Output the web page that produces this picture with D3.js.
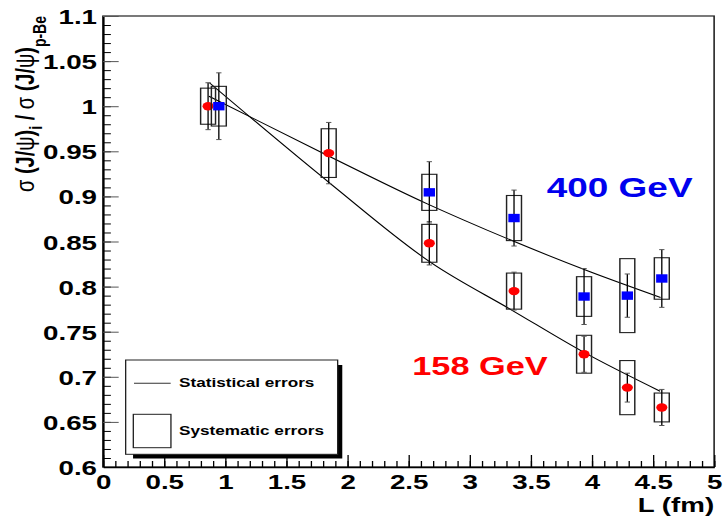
<!DOCTYPE html>
<html>
<head>
<meta charset="utf-8">
<script src="https://cdn.jsdelivr.net/npm/d3@7"></script>
<style>
  body { margin: 0; background: #fff; }
  svg { display: block; }
  text { font-family: "Liberation Sans", Arial, Helvetica, sans-serif; font-weight: bold; }
</style>
</head>
<body>
<svg id="plot" width="723" height="521"></svg>
<script>
// J/psi suppression vs L, 158 GeV and 400 GeV p-A data

// 158 GeV points
var lenRed = [0.86, 1.847, 2.67, 3.363, 3.936, 4.29, 4.572];
var ratioRed = [1.0, 0.948, 0.848, 0.795, 0.725, 0.688, 0.666];
var statRed = [0.026, 0.034, 0.024, 0.021, 0.020, 0.016, 0.020];
var systRed = [0.020, 0.027, 0.021, 0.020, 0.021, 0.030, 0.016];

// 400 GeV points
var lenBlue = [0.948, 2.67, 3.363, 3.936, 4.29, 4.572];
var ratioBlue = [1.0, 0.9045, 0.876, 0.789, 0.790, 0.809];
var statBlue = [0.037, 0.034, 0.031, 0.031, 0.024, 0.032];
var systBlue = [0.022, 0.020, 0.025, 0.022, 0.041, 0.023];

// fit curves
var fitLen400 = [0.867, 1.858, 2.649, 2.948, 3.985, 4.562];
var fitVal400 = [1.011, 0.944, 0.892, 0.874, 0.8165, 0.788];
var fitLen158 = [0.871, 1.858, 2.69, 3.344, 3.936, 4.558];
var fitVal158 = [1.026, 0.9145, 0.826, 0.774, 0.727, 0.684];

// axis ticks
var xTickLabels = [0, 0.5, 1, 1.5, 2, 2.5, 3, 3.5, 4, 4.5, 5];
var yTickLabels = [0.6, 0.65, 0.7, 0.75, 0.8, 0.85, 0.9, 0.95, 1, 1.05, 1.1];

var boxHalf = 0.061;

// the canvas is drawn in a narrower user space and stretched to the window
var stretch = 1.32;
var W = 723 / stretch, H = 521;
var svg = d3.select("#plot")
  .attr("viewBox", "0 0 " + W + " " + H)
  .attr("preserveAspectRatio", "none");

var x = d3.scaleLinear().domain([0, 5]).range([78, 541]);
var y = d3.scaleLinear().domain([0.6, 1.1]).range([467, 16]);

// frame
svg.append("rect")
  .attr("x", x(0)).attr("y", y(1.1))
  .attr("width", x(5) - x(0)).attr("height", y(0.6) - y(1.1))
  .attr("fill", "none").attr("stroke", "#222").attr("stroke-width", 1.2);

// y axis: minor then major ticks
var yMinor = d3.range(60, 111).map(function (v) { return v / 100; });
svg.append("g")
  .attr("transform", "translate(" + x(0) + ",0)")
  .call(d3.axisLeft(y).tickValues(yMinor).tickSize(-6).tickSizeOuter(0).tickFormat(""))
  .call(function (g) { g.select(".domain").attr("stroke-width", 1.5); });

var yAxis = svg.append("g")
  .attr("transform", "translate(" + x(0) + ",0)")
  .call(d3.axisLeft(y).tickValues(yTickLabels).tickSize(-11.9).tickPadding(4.5).tickSizeOuter(0)
    .tickFormat(d3.format("~g")));
yAxis.select(".domain").remove();
yAxis.selectAll("line").attr("stroke", "#555");
yAxis.selectAll("text")
  .attr("font-size", 21).attr("font-family", null).attr("fill", "#000")
  .attr("dy", "0.36em");

// x axis
var xMinor = d3.range(0, 51).map(function (v) { return v / 10; });
svg.append("g")
  .attr("transform", "translate(0," + y(0.6) + ")")
  .call(d3.axisBottom(x).tickValues(xMinor).tickSize(-6).tickSizeOuter(0).tickFormat(""))
  .call(function (g) { g.select(".domain").attr("stroke-width", 1.5); });

var xAxis = svg.append("g")
  .attr("transform", "translate(0," + y(0.6) + ")")
  .call(d3.axisBottom(x).tickValues(xTickLabels).tickSize(-12).tickPadding(0).tickSizeOuter(0)
    .tickFormat(d3.format("~g")));
xAxis.select(".domain").remove();
xAxis.selectAll("text")
  .attr("font-size", 21).attr("font-family", null).attr("fill", "#000")
  .attr("y", 22).attr("dy", null);

// axis titles
svg.append("text")
  .attr("x", 541).attr("y", 512)
  .attr("text-anchor", "end").attr("font-size", 21)
  .text("L (fm)");

var yTitle = svg.append("text")
  .attr("transform", "translate(25.8,104) rotate(-90)")
  .attr("text-anchor", "middle").attr("font-size", 20);
yTitle.append("tspan").attr("font-weight", "normal").text("σ ");
yTitle.append("tspan").text("(J/");
yTitle.append("tspan").attr("font-weight", "normal").text("ψ");
yTitle.append("tspan").text(")");
yTitle.append("tspan").attr("font-size", 14).attr("dy", 6).text("i");
yTitle.append("tspan").attr("dy", -6).text(" / ");
yTitle.append("tspan").attr("font-weight", "normal").text("σ ");
yTitle.append("tspan").text("(J/");
yTitle.append("tspan").attr("font-weight", "normal").text("ψ");
yTitle.append("tspan").text(")");
yTitle.append("tspan").attr("font-size", 14).attr("dy", 9).text("p-Be");

// fit curves
var fitLine = d3.line()
  .x(function (d) { return x(d[0]); })
  .y(function (d) { return y(d[1]); })
  .curve(d3.curveMonotoneX);

[[fitLen400, fitVal400], [fitLen158, fitVal158]].forEach(function (f) {
  svg.append("path")
    .datum(d3.zip(f[0], f[1]))
    .attr("d", fitLine)
    .attr("fill", "none").attr("stroke", "#000").attr("stroke-width", 1);
});

// systematic boxes, stat bars and markers for one data set
function drawSeries(lens, vals, stat, syst, color, square) {
  var pts = lens.map(function (l, i) {
    return { l: l, v: vals[i], st: stat[i], sy: syst[i] };
  });
  var g = svg.append("g");

  g.selectAll("rect.syst").data(pts).enter().append("rect")
    .attr("class", "syst")
    .attr("x", function (d) { return x(d.l - boxHalf); })
    .attr("y", function (d) { return y(d.v + d.sy); })
    .attr("width", function (d) { return x(d.l + boxHalf) - x(d.l - boxHalf); })
    .attr("height", function (d) { return y(d.v - d.sy) - y(d.v + d.sy); })
    .attr("fill", "none").attr("stroke", "#222").attr("stroke-width", 1.1);

  g.selectAll("line.stat").data(pts).enter().append("line")
    .attr("class", "stat")
    .attr("x1", function (d) { return x(d.l); })
    .attr("x2", function (d) { return x(d.l); })
    .attr("y1", function (d) { return y(d.v + d.st); })
    .attr("y2", function (d) { return y(d.v - d.st); })
    .attr("stroke", "#000").attr("stroke-width", 1);

  [1, -1].forEach(function (s) {
    g.selectAll("line.cap" + s).data(pts).enter().append("line")
      .attr("x1", function (d) { return x(d.l) - 2; })
      .attr("x2", function (d) { return x(d.l) + 2; })
      .attr("y1", function (d) { return y(d.v + s * d.st); })
      .attr("y2", function (d) { return y(d.v + s * d.st); })
      .attr("stroke", "#555").attr("stroke-width", 1);
  });

  if (square) {
    g.selectAll("rect.mk").data(pts).enter().append("rect")
      .attr("x", function (d) { return x(d.l) - 4.3; })
      .attr("y", function (d) { return y(d.v) - 4.2; })
      .attr("width", 8.6).attr("height", 8.4)
      .attr("fill", color);
  } else {
    g.selectAll("circle.mk").data(pts).enter().append("circle")
      .attr("cx", function (d) { return x(d.l); })
      .attr("cy", function (d) { return y(d.v); })
      .attr("r", 4.2)
      .attr("fill", color);
  }
}

drawSeries(lenRed, ratioRed, statRed, systRed, "#ff0000", false);
drawSeries(lenBlue, ratioBlue, statBlue, systBlue, "#0000ff", true);

// energy labels
svg.append("text")
  .attr("x", 414.2).attr("y", 197.3)
  .attr("font-size", 28).attr("fill", "#0000ee")
  .text("400 GeV");
svg.append("text")
  .attr("x", 312.3).attr("y", 375)
  .attr("font-size", 26).attr("fill", "#ff0000")
  .text("158 GeV");

// legend with drop shadow
var leg = svg.append("g");
leg.append("rect")
  .attr("x", 100.8).attr("y", 365).attr("width", 158.5).attr("height", 93.5)
  .attr("fill", "#000");
leg.append("rect")
  .attr("x", 95.2).attr("y", 360).attr("width", 160.6).attr("height", 94.3)
  .attr("fill", "#fff").attr("stroke", "#222").attr("stroke-width", 1);
leg.append("line")
  .attr("x1", 101.5).attr("x2", 129.3).attr("y1", 383.3).attr("y2", 383.3)
  .attr("stroke", "#333").attr("stroke-width", 1);
leg.append("text")
  .attr("x", 135.6).attr("y", 387.3).attr("font-size", 13)
  .text("Statistical errors");
leg.append("rect")
  .attr("x", 101).attr("y", 414.3).attr("width", 28.5).attr("height", 33.4)
  .attr("fill", "none").attr("stroke", "#222").attr("stroke-width", 1);
leg.append("text")
  .attr("x", 135.6).attr("y", 435).attr("font-size", 13)
  .text("Systematic errors");
</script>
</body>
</html>
